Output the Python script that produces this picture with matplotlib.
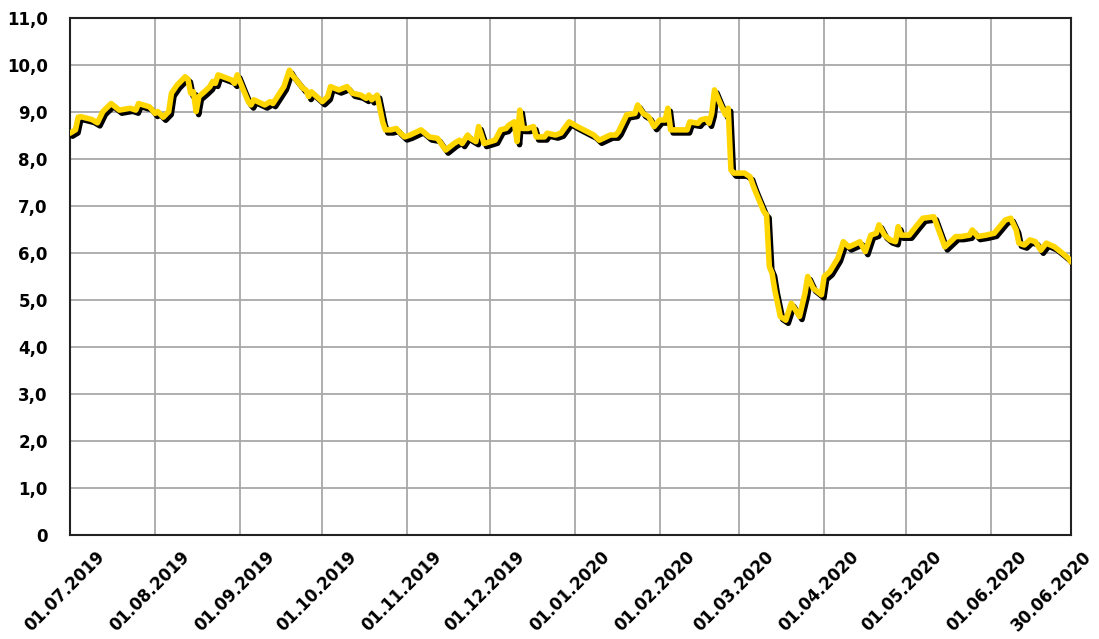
import matplotlib
matplotlib.use("Agg")
import matplotlib.pyplot as plt
import matplotlib.patheffects as pe
import matplotlib.transforms as mtransforms
import pandas as pd

start_date = "2019-07-01"
day_offsets = [0, 2, 3, 4, 8, 10, 12, 15, 18, 22, 24, 25, 29, 31, 32, 34, 36, 37, 39, 42,
               43, 44, 45, 46, 47, 49, 51, 52, 53, 54, 59, 60, 61, 63, 65, 66, 67, 71, 73, 74,
               78, 80, 81, 85, 86, 87, 88, 92, 94, 95, 98, 101, 103, 106, 108, 109, 110, 112, 114, 115,
               117, 119, 120, 122, 124, 128, 131, 134, 137, 140, 142, 143, 145, 146, 148, 149, 151, 155, 157, 159,
               160, 162, 163, 164, 165, 167, 169, 170, 173, 174, 177, 179, 182, 185, 191, 193, 197, 199, 200, 203,
               206, 207, 209, 211, 213, 215, 217, 218, 219, 222, 225, 226, 229, 230, 232, 233, 234, 235, 237, 239,
               240, 241, 242, 246, 248, 249, 250, 253, 254, 255, 256, 257, 259, 261, 263, 266, 268, 269, 271, 274,
               275, 277, 280, 282, 284, 287, 288, 290, 292, 294, 295, 297, 299, 301, 302, 303, 306, 309, 311, 315,
               317, 319, 321, 323, 325, 328, 329, 331, 334, 337, 338, 341, 343, 345, 346, 348, 350, 352, 354, 356,
               359, 362, 364, 365]
values = [8.55, 8.62, 8.89, 8.90, 8.84, 8.77, 9.01, 9.18, 9.04, 9.08, 9.04, 9.18, 9.11, 8.97, 9.01, 8.89, 9.01, 9.40, 9.57, 9.75,
          9.70, 9.40, 9.43, 9.01, 9.33, 9.43, 9.54, 9.65, 9.61, 9.79, 9.68, 9.61, 9.79, 9.50, 9.22, 9.15, 9.26, 9.15, 9.22, 9.18,
          9.54, 9.89, 9.79, 9.50, 9.47, 9.33, 9.43, 9.22, 9.33, 9.54, 9.47, 9.54, 9.40, 9.36, 9.29, 9.36, 9.26, 9.36, 8.79, 8.62,
          8.62, 8.65, 8.58, 8.47, 8.51, 8.62, 8.47, 8.44, 8.19, 8.33, 8.40, 8.33, 8.51, 8.44, 8.37, 8.69, 8.33, 8.40, 8.62, 8.65,
          8.72, 8.79, 8.37, 9.04, 8.65, 8.65, 8.69, 8.47, 8.47, 8.55, 8.51, 8.55, 8.79, 8.69, 8.51, 8.40, 8.51, 8.51, 8.58, 8.94,
          8.97, 9.15, 8.97, 8.90, 8.69, 8.83, 8.83, 9.08, 8.62, 8.62, 8.62, 8.79, 8.76, 8.83, 8.86, 8.76, 8.97, 9.47, 9.19, 8.94,
          9.08, 7.77, 7.70, 7.70, 7.62, 7.45, 7.30, 6.88, 6.81, 5.71, 5.57, 5.21, 4.65, 4.57, 4.93, 4.65, 5.14, 5.50, 5.25, 5.11,
          5.50, 5.60, 5.89, 6.24, 6.13, 6.21, 6.24, 6.03, 6.38, 6.42, 6.60, 6.38, 6.28, 6.24, 6.56, 6.38, 6.38, 6.60, 6.74, 6.77,
          6.45, 6.13, 6.24, 6.35, 6.35, 6.38, 6.49, 6.35, 6.38, 6.42, 6.49, 6.70, 6.74, 6.49, 6.21, 6.17, 6.28, 6.24, 6.06, 6.21,
          6.13, 5.99, 5.89, 5.81]
tick_dates = ["2019-07-01", "2019-08-01", "2019-09-01", "2019-10-01", "2019-11-01", "2019-12-01",
              "2020-01-01", "2020-02-01", "2020-03-01", "2020-04-01", "2020-05-01", "2020-06-01", "2020-06-30"]
tick_labels = ["01.07.2019", "01.08.2019", "01.09.2019", "01.10.2019", "01.11.2019", "01.12.2019",
               "01.01.2020", "01.02.2020", "01.03.2020", "01.04.2020", "01.05.2020", "01.06.2020", "30.06.2020"]
y_ticks = list(range(0, 12))
y_labels = ["0", "1,0", "2,0", "3,0", "4,0", "5,0", "6,0", "7,0", "8,0", "9,0", "10,0", "11,0"]

dates = pd.Timestamp(start_date) + pd.to_timedelta(day_offsets, unit="D")
tdates = pd.to_datetime(tick_dates)

plt.rcParams['font.family'] = ['DejaVu Sans']
fig = plt.figure(figsize=(10.99, 6.39), dpi=100)
ax = fig.add_axes([70/1099, 1 - 535/639, (1071-70)/1099, (535-18)/639])

ax.plot(dates, values, color="#FFD600", lw=4.0, solid_joinstyle="round", solid_capstyle="round",
        path_effects=[pe.SimpleLineShadow(offset=(1.8, -2.2), shadow_color="black", alpha=1.0),
                      pe.Normal()], zorder=3)

ax.set_xlim(tdates[0], tdates[-1])
ax.set_ylim(0, 11)
ax.set_xticks(tdates)
ax.set_xticklabels(tick_labels, rotation=45, ha="center", fontsize=12, fontweight="bold")
ax.set_yticks(y_ticks)
ax.set_yticklabels(y_labels, fontsize=12, fontweight="bold")
ax.tick_params(axis="x", length=0, pad=9)
ax.tick_params(axis="y", length=0, pad=16)
ax.grid(True, color="#a8a8a8", lw=1.3, zorder=0)
ax.set_axisbelow(True)
for s in ax.spines.values():
    s.set_color("#222222")
    s.set_linewidth(1.5)

labels = ax.get_xticklabels()
for i, lab in enumerate(labels):
    dx = -19 if i == len(labels) - 1 else -5
    lab.set_transform(lab.get_transform() + mtransforms.ScaledTranslation(dx / 100, 0, fig.dpi_scale_trans))

fig.savefig("out.png", dpi=100)
